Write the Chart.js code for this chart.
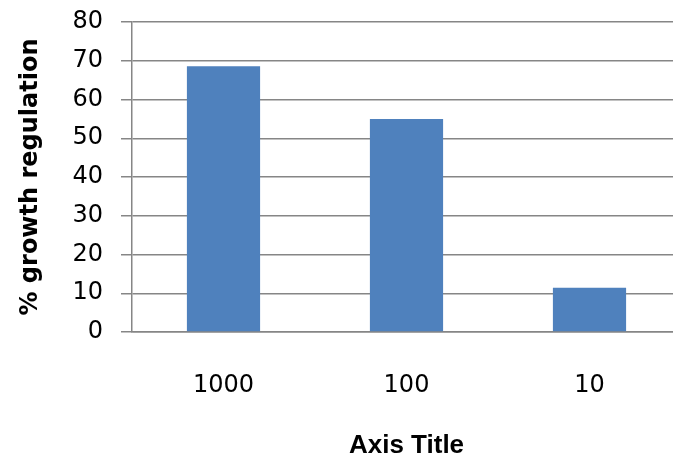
<!DOCTYPE html>
<html>
<head>
<meta charset="utf-8">
<script src="https://cdn.jsdelivr.net/npm/chart.js@4/dist/chart.umd.min.js"></script>
<style>
  html, body { margin: 0; padding: 0; background: #fff; overflow: hidden; }
  #wrap { width: 690px; height: 461px; }
</style>
</head>
<body>
<div id="wrap"><canvas id="c" width="690" height="461"></canvas></div>
<script>
// Growth regulation by concentration
const categories = ['1000', '100', '10'];
const growthRegulation = [68.6, 55.0, 11.4];
const yTicks = [0, 10, 20, 30, 40, 50, 60, 70, 80];

const gridColor = '#868686';
const tickFont = { family: 'DejaVu Sans', size: 24 };

new Chart(document.getElementById('c'), {
  type: 'bar',
  data: {
    labels: categories,
    datasets: [{
      data: growthRegulation,
      backgroundColor: '#4F81BD',
      borderWidth: 0,
      barPercentage: 0.4,
      categoryPercentage: 1.0
    }]
  },
  options: {
    responsive: false,
    animation: false,
    events: [],
    layout: { padding: { top: 22, right: 9, bottom: 0, left: 0 } },
    plugins: { legend: { display: false }, tooltip: { enabled: false } },
    scales: {
      x: {
        grid: { display: false },
        border: { display: true, color: gridColor, width: 1.5 },
        ticks: { font: tickFont, color: '#000', padding: 31, maxRotation: 0 },
        title: {
          display: true,
          text: 'Axis Title',
          font: { family: 'Liberation Sans', size: 26, weight: 'bold' },
          color: '#000',
          padding: { top: 0, bottom: 0 }
        },
        afterFit: (s) => { s.height = 129; }
      },
      y: {
        min: 0,
        max: 80,
        afterBuildTicks: (s) => { s.ticks = yTicks.map(v => ({ value: v })); },
        grid: { color: gridColor, lineWidth: 1.5, tickLength: 11, drawTicks: true },
        border: { display: true, color: gridColor, width: 1.5 },
        ticks: { font: tickFont, color: '#000', padding: 18 },
        title: {
          display: true,
          text: '% growth regulation',
          font: { family: 'DejaVu Sans', size: 24, weight: 'bold' },
          color: '#000',
          padding: { top: 16, bottom: 0 }
        },
        afterFit: (s) => {
          s.width = 132;
          // let the top label overhang the plot edge instead of shrinking it
          s.paddingTop = 0;
          s.paddingBottom = 0;
        }
      }
    }
  }
});
</script>
</body>
</html>
